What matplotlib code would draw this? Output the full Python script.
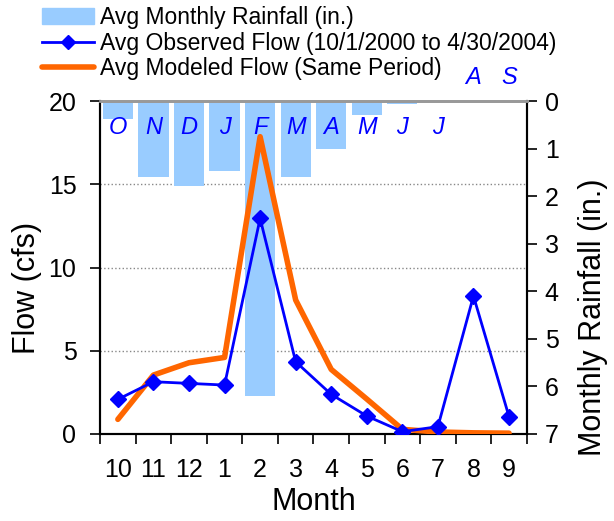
import numpy as np
import matplotlib
matplotlib.use('Agg')
import matplotlib.pyplot as plt
import matplotlib.transforms as mtransforms
from matplotlib.lines import Line2D
from matplotlib.patches import Patch

plt.rcParams['font.family'] = ['Liberation Sans', 'DejaVu Sans']

# 数据
months = ['10', '11', '12', '1', '2', '3', '4', '5', '6', '7', '8', '9']
letters = ['O', 'N', 'D', 'J', 'F', 'M', 'A', 'M', 'J', 'J', 'A', 'S']
rainfall = [0.38, 1.60, 1.78, 1.48, 6.21, 1.60, 1.01, 0.29, 0.07, 0.02, 0.0, 0.0]
observed = [2.08, 3.14, 3.04, 2.94, 12.95, 4.34, 2.38, 1.08, 0.14, 0.44, 8.29, 1.04]
modeled = [0.88, 3.54, 4.28, 4.60, 17.86, 8.05, 3.88, 2.10, 0.28, 0.12, 0.07, 0.05]

x = np.arange(len(months))

fig = plt.figure(figsize=(6.14, 5.21), dpi=100)
ax = fig.add_axes([0.163, 0.167, 0.695, 0.639])
ax2 = ax.twinx()

# 降雨柱（右轴，倒置）
ax2.bar(x, rainfall, width=0.85, color='#99CCFF', zorder=2)
ax2.set_ylim(7, 0)
ax2.set_yticks(range(8))
ax2.set_ylabel('Monthly Rainfall (in.)', fontsize=22)
ax2.yaxis.set_label_coords(1.12, 0.35)
ax2.tick_params(axis='y', direction='out', length=7, width=1.2, labelsize=18, pad=6)

# 网格线（在柱子后面）
ax2.set_xticks(np.arange(-0.5, 12, 1))
ax2.grid(axis='x', color='#888888', linestyle=':', linewidth=1, zorder=0)
trans = mtransforms.blended_transform_factory(ax2.transAxes, ax.transData)
for yv in [5, 10, 15]:
    ax2.plot([0, 1], [yv, yv], transform=trans, color='#888888',
             linestyle=':', linewidth=1, zorder=1)

# 流量线（左轴）
ax.set_zorder(ax2.get_zorder() + 1)
ax.patch.set_visible(False)
ax.plot(x, modeled, color='#FF6600', linewidth=4, solid_capstyle='round', zorder=3)
ax.plot(x, observed, color='#0000FF', linewidth=2, marker='D', markersize=8, zorder=4)
ax.set_ylim(0, 20)
ax.set_xlim(-0.5, 11.5)
ax2.set_xlim(-0.5, 11.5)
ax.set_yticks([0, 5, 10, 15, 20])
ax.set_ylabel('Flow (cfs)', fontsize=22)
ax.yaxis.set_label_coords(-0.135, 0.44)
ax.tick_params(axis='y', direction='out', length=7, width=1.2, labelsize=18, pad=10)

ax.set_xticks(np.arange(-0.5, 12, 1))
ax.set_xticklabels([])
ax.set_xticks(x, minor=True)
ax.set_xticklabels(months, minor=True, fontsize=18)
ax.tick_params(axis='x', which='major', direction='out', length=7, width=1.2)
ax.tick_params(axis='x', which='minor', length=0, pad=17)
ax2.tick_params(axis='x', which='both', length=0, labelbottom=False)
ax.set_xlabel('Month', fontsize=22, labelpad=4)

for a in (ax, ax2):
    for s in ['left', 'right', 'bottom']:
        a.spines[s].set_linewidth(1.5)
    a.spines['top'].set_color('#999999')
    a.spines['top'].set_linewidth(2)

# 月份字母
ltrans = mtransforms.blended_transform_factory(ax.transData, ax.transAxes)
for i, l in enumerate(letters):
    yy = 1.072 if rainfall[i] == 0 else 0.922
    ax.text(i, yy, l, transform=ltrans, ha='center', va='center',
            color='#0000FF', style='italic', fontsize=17)

handles = [Patch(color='#99CCFF'),
           Line2D([], [], color='#0000FF', linewidth=2, marker='D', markersize=7),
           Line2D([], [], color='#FF6600', linewidth=4, solid_capstyle='round')]
labels = ['Avg Monthly Rainfall (in.)',
          'Avg Observed Flow (10/1/2000 to 4/30/2004)',
          'Avg Modeled Flow (Same Period)']
fig.legend(handles, labels, loc='upper left', bbox_to_anchor=(0.068, 0.988),
           frameon=False, fontsize=16.5, handlelength=2.3, handletextpad=0.25,
           labelspacing=0.1, borderaxespad=0, borderpad=0)

fig.savefig('out.png', dpi=100)
